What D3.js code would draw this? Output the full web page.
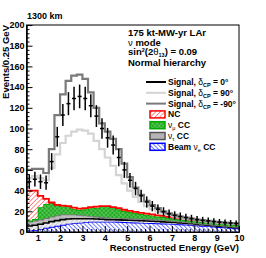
<!DOCTYPE html>
<html lang="en">
<head>
<meta charset="UTF-8">
<script src="https://d3js.org/d3.v7.min.js"></script>
<title>1300 km</title>
<style>
    body { margin: 0; background: white; }
    svg { display: block; font-family: "Liberation Sans", Arial, sans-serif; font-weight: bold; }
    .axis text { font-size: 9px; font-weight: bold; font-family: "Liberation Sans", Arial, sans-serif; }
    .axis path, .axis line { stroke: #000; }
</style>
</head>
<body>
<div id="chart"></div>
<script>
    /*------------------- Data (events / 0.25 GeV) --------------------*/
    const binWidth = 0.25;
    const binLow = d3.range(38).map(i => 0.5 + binWidth * i);

    // stacked backgrounds, bottom to top
    const beamNueCC = [1.5, 2, 3, 4, 5, 6, 7, 8, 8.5, 9, 9.5, 10, 10, 10, 10, 10, 9.8, 9.6, 9.4, 9.2,
        9, 8.8, 8.6, 8.4, 8.2, 8, 7.8, 7.5, 7.2, 6.8, 6.4, 6, 5.6, 5.2, 4.8, 4.4, 4, 3.6];
    const nutauCC = [8.5, 9, 9, 9.5, 10, 10, 10, 9, 8.5, 7.5, 6.5, 5.5, 5, 4.5, 4, 3.8, 3.8, 3.8, 3.8, 3.8,
        3.8, 3.7, 3.6, 3.4, 3.2, 3, 2.8, 2.6, 2.4, 2.2, 2, 1.9, 1.8, 1.7, 1.6, 1.5, 1.4, 1.3];
    const numuCC = [1, 1.5, 12, 13.5, 13, 10, 8, 7, 5.5, 5, 6, 7.5, 8.5, 9.5, 10, 9.2, 8.4, 7.1, 6.3, 5.5,
        4.7, 4.2, 3.8, 3.2, 3.1, 2.7, 2.4, 2.2, 2, 2, 2, 1.9, 1.9, 1.9, 1.9, 1.9, 2, 2.1];
    const ncBkg = [29, 27.5, 11, 5, 0.5, 0.3, 0.5, 1, 1, 1, 1, 1, 1, 1, 1, 1, 1, 1, 1, 1,
        1, 1, 1, 1, 1, 1, 1, 1, 1, 1, 0.9, 0.9, 0.9, 0.9, 0.9, 0.9, 0.9, 0.9];

    // signal + background totals
    const sigDcpMinus90 = [60, 61, 61, 57, 80, 113, 133, 146, 151, 152, 148, 135, 120, 105, 97, 90, 80, 66, 53, 43,
        36, 30, 26, 23, 20, 18, 16.5, 15, 14, 13, 12, 11.3, 10.7, 10.1, 9.6, 9.1, 8.7, 8.3];
    const sigDcpPlus90 = [52, 54, 52, 50, 62, 75, 86, 93, 97, 99, 98, 95, 88, 80, 72, 64, 55, 47, 40, 34,
        29, 25, 22, 20, 18, 16.5, 15, 14, 13, 12.3, 11.5, 10.8, 10.2, 9.6, 9.1, 8.6, 8.2, 7.8];
    const sigDcp0 = [48.6, 51, 48.6, 47.6, 68, 92, 113, 124, 129, 131, 129, 122, 112, 100, 91, 84, 72, 60, 50, 42,
        35, 29, 25, 22, 19.5, 17.5, 16, 15, 14, 13, 12, 11.3, 10.7, 10.1, 9.5, 9, 8.6, 8.2];

    const yTicks = d3.range(0, 201, 20);
    const xTicks = d3.range(1, 11, 1);

    /*------------------- Layout --------------------*/
    const W = 266, H = 258;
    const x = d3.scaleLinear().domain([0.5, 10]).range([26.5, 239]);
    const y = d3.scaleLinear().domain([0, 200]).range([232, 25]);

    const svg = d3.select("#chart").append("svg")
        .attr("width", W)
        .attr("height", H);

    // hatch patterns
    const defs = svg.append("defs");
    function hatch(id, bg, color, width, size, angle) {
        const p = defs.append("pattern")
            .attr("id", id)
            .attr("patternUnits", "userSpaceOnUse")
            .attr("width", size).attr("height", size)
            .attr("patternTransform", "rotate(" + angle + ")");
        p.append("rect").attr("width", size).attr("height", size).attr("fill", bg);
        p.append("line").attr("x1", 0).attr("y1", 0).attr("x2", 0).attr("y2", size)
            .attr("stroke", color).attr("stroke-width", width);
        return p;
    }
    hatch("ncPat", "#fff", "#ff5050", 1.3, 3.2, 45);
    hatch("nuePat", "#fff", "#3344ff", 1.4, 3, -45);
    hatch("nutauPat", "#eee", "#aaa", 1, 3, 45);
    const gp = hatch("numuPat", "#22aa22", "#88dd88", 0.8, 3, 45);
    gp.append("line").attr("x1", 0).attr("y1", 0).attr("x2", 3).attr("y2", 0)
        .attr("stroke", "#88dd88").attr("stroke-width", 0.8);

    // stacked table
    const table = binLow.map((e, i) => ({
        e: e, nue: beamNueCC[i], nutau: nutauCC[i], numu: numuCC[i], nc: ncBkg[i]
    }));
    const stack = d3.stack().keys(["nue", "nutau", "numu", "nc"])(table);

    // close the step with the upper edge of last bin
    const withEnd = arr => arr.concat([{ ...arr[arr.length - 1], e: arr[arr.length - 1].e + binWidth }]);

    const area = d3.area().curve(d3.curveStepAfter)
        .x(d => x(d.e)).y0(d => y(d.lo)).y1(d => y(d.hi));
    const line = d3.line().curve(d3.curveStepAfter)
        .x(d => x(d.e)).y(d => y(d.v));

    const styles = {
        nue: { fill: "url(#nuePat)", stroke: "#0000ff" },
        nutau: { fill: "url(#nutauPat)", stroke: "#777" },
        numu: { fill: "url(#numuPat)", stroke: "#00aa00" },
        nc: { fill: "url(#ncPat)", stroke: "#ff0000" }
    };

    const plot = svg.append("g");

    stack.forEach(layer => {
        const pts = withEnd(layer.map((d, i) => ({ e: binLow[i], lo: d[0], hi: d[1] })));
        plot.append("path")
            .attr("d", area(pts))
            .attr("fill", styles[layer.key].fill);
        if (layer.key === "nutau") {
            // darker upper part of the nu_tau band with black line under it
            const mid = pts.map(p => ({ e: p.e, lo: p.lo + (p.hi - p.lo) * 0.5, hi: p.hi }));
            plot.append("path").attr("d", area(mid)).attr("fill", "#bcbcbc");
            plot.append("path").attr("d", line(mid.map(p => ({ e: p.e, v: p.lo }))))
                .attr("fill", "none").attr("stroke", "#000").attr("stroke-width", 1.6);
        }
        plot.append("path")
            .attr("d", line(pts.map(p => ({ e: p.e, v: p.hi }))))
            .attr("fill", "none")
            .attr("stroke", styles[layer.key].stroke)
            .attr("stroke-width", 1.8);
    });

    // totals
    const totalLine = (vals, color) => {
        const pts = withEnd(vals.map((v, i) => ({ e: binLow[i], v: v })));
        plot.append("path")
            .attr("d", line(pts))
            .attr("fill", "none")
            .attr("stroke", color)
            .attr("stroke-width", 2.2);
    };
    totalLine(sigDcpPlus90, "#d4d4d4");
    totalLine(sigDcpMinus90, "#7a7a7a");

    // delta_CP = 0 points with statistical errors
    const pts0 = sigDcp0.map((v, i) => ({ c: binLow[i] + binWidth / 2, v: v, err: Math.sqrt(v) }));
    const crosses = plot.append("g").attr("stroke", "#000").attr("stroke-width", 1.5);
    crosses.selectAll(".ev").data(pts0).join("line")
        .attr("x1", d => x(d.c)).attr("x2", d => x(d.c))
        .attr("y1", d => y(d.v - d.err)).attr("y2", d => y(d.v + d.err));
    crosses.selectAll(".eh").data(pts0).join("line")
        .attr("x1", d => x(d.c - 0.09)).attr("x2", d => x(d.c + 0.09))
        .attr("y1", d => y(d.v)).attr("y2", d => y(d.v));

    /*------------------- Axes --------------------*/
    svg.append("rect")
        .attr("x", x(0.5)).attr("y", y(200))
        .attr("width", x(10) - x(0.5)).attr("height", y(0) - y(200))
        .attr("fill", "none").attr("stroke", "#000").attr("stroke-width", 1);

    svg.append("g").attr("class", "axis")
        .attr("transform", "translate(" + x(0.5) + ",0)")
        .call(d3.axisLeft(y).tickValues(yTicks).tickSize(-6).tickSizeOuter(0).tickPadding(2));
    svg.append("g").attr("class", "axis")
        .attr("transform", "translate(" + x(0.5) + ",0)")
        .call(d3.axisLeft(y).tickValues(d3.range(4, 200, 4).filter(v => v % 20 !== 0))
            .tickSize(-3).tickSizeOuter(0).tickFormat(""));

    svg.append("g").attr("class", "axis")
        .attr("transform", "translate(0," + y(0) + ")")
        .call(d3.axisBottom(x).tickValues(xTicks).tickSize(-6).tickSizeOuter(0).tickPadding(3));
    svg.append("g").attr("class", "axis")
        .attr("transform", "translate(0," + y(0) + ")")
        .call(d3.axisBottom(x).tickValues(d3.range(6, 100, 2).map(v => v / 10).filter(v => v % 1 !== 0))
            .tickSize(-3).tickSizeOuter(0).tickFormat(""));

    svg.append("text")
        .attr("x", x(10)).attr("y", 251)
        .attr("text-anchor", "end")
        .attr("font-size", 9.5)
        .text("Reconstructed Energy (GeV)");

    svg.append("text")
        .attr("transform", "translate(9," + y(200) + ") rotate(-90)")
        .attr("text-anchor", "end")
        .attr("font-size", 9.5)
        .text("Events/0.25 GeV");

    svg.append("text")
        .attr("x", 27).attr("y", 19)
        .attr("font-size", 9)
        .text("1300 km");

    /*------------------- Legend --------------------*/
    const lg = svg.append("g").attr("font-size", 9.5);
    const hx = 128;
    lg.append("text").attr("x", hx).attr("y", 35.5).text("175 kt-MW-yr LAr");
    const l2 = lg.append("text").attr("x", hx).attr("y", 45.5);
    l2.append("tspan").attr("font-weight", "normal").text("\u03bd");
    l2.append("tspan").text(" mode");
    const l3 = lg.append("text").attr("x", hx).attr("y", 55);
    l3.append("tspan").text("sin");
    l3.append("tspan").attr("font-size", 5.5).attr("dy", -3.5).text("2");
    l3.append("tspan").attr("dy", 3.5).text("(2");
    l3.append("tspan").attr("font-weight", "normal").text("\u03b8");
    l3.append("tspan").attr("font-size", 5.5).attr("dy", 1.8).text("13");
    l3.append("tspan").attr("dy", -1.8).text(") = 0.09");
    lg.append("text").attr("x", hx).attr("y", 65.5).text("Normal hierarchy");

    const entries = [
        { kind: "line", color: "#000", label: "0\u00b0" },
        { kind: "line", color: "#d4d4d4", label: "90\u00b0" },
        { kind: "line", color: "#7a7a7a", label: "-90\u00b0" },
        { kind: "box", fill: "url(#ncPat)", stroke: "#ff0000", label: "NC" },
        { kind: "box", fill: "url(#numuPat)", stroke: "#00aa00", label: "\u03bc CC" },
        { kind: "box", fill: "#b5b5b5", stroke: "#555", label: "\u03c4 CC" },
        { kind: "box", fill: "url(#nuePat)", stroke: "#0000ff", label: "e CC", beam: true }
    ];
    entries.forEach((d, i) => {
        const cy = 82 + 10.8 * i;
        const g = lg.append("g").attr("font-size", 8.5);
        if (d.kind === "line") {
            g.append("line").attr("x1", 146).attr("x2", 166).attr("y1", cy).attr("y2", cy)
                .attr("stroke", d.color).attr("stroke-width", 2);
            const t = g.append("text").attr("x", 168).attr("y", cy + 3);
            t.append("tspan").text("Signal, ");
            t.append("tspan").attr("font-weight", "normal").text("\u03b4");
            t.append("tspan").attr("font-size", 5.5).attr("dy", 2).text("CP");
            t.append("tspan").attr("dy", -2).text(" = " + d.label);
        } else {
            g.append("rect").attr("x", 150).attr("y", cy - 3.5).attr("width", 15).attr("height", 7)
                .attr("fill", d.fill).attr("stroke", d.stroke).attr("stroke-width", 1.5);
            const t = g.append("text").attr("x", 168).attr("y", cy + 3);
            if (d.label === "NC") {
                t.text("NC");
            } else {
                if (d.beam) t.append("tspan").text("Beam ");
                t.append("tspan").attr("font-weight", "normal").text("\u03bd");
                const parts = d.label.split(" ");
                t.append("tspan").attr("font-size", 5.5).attr("dy", 2).attr("font-weight", "normal").text(parts[0]);
                t.append("tspan").attr("dy", -2).text(" " + parts[1]);
            }
        }
    });
</script>
</body>
</html>
